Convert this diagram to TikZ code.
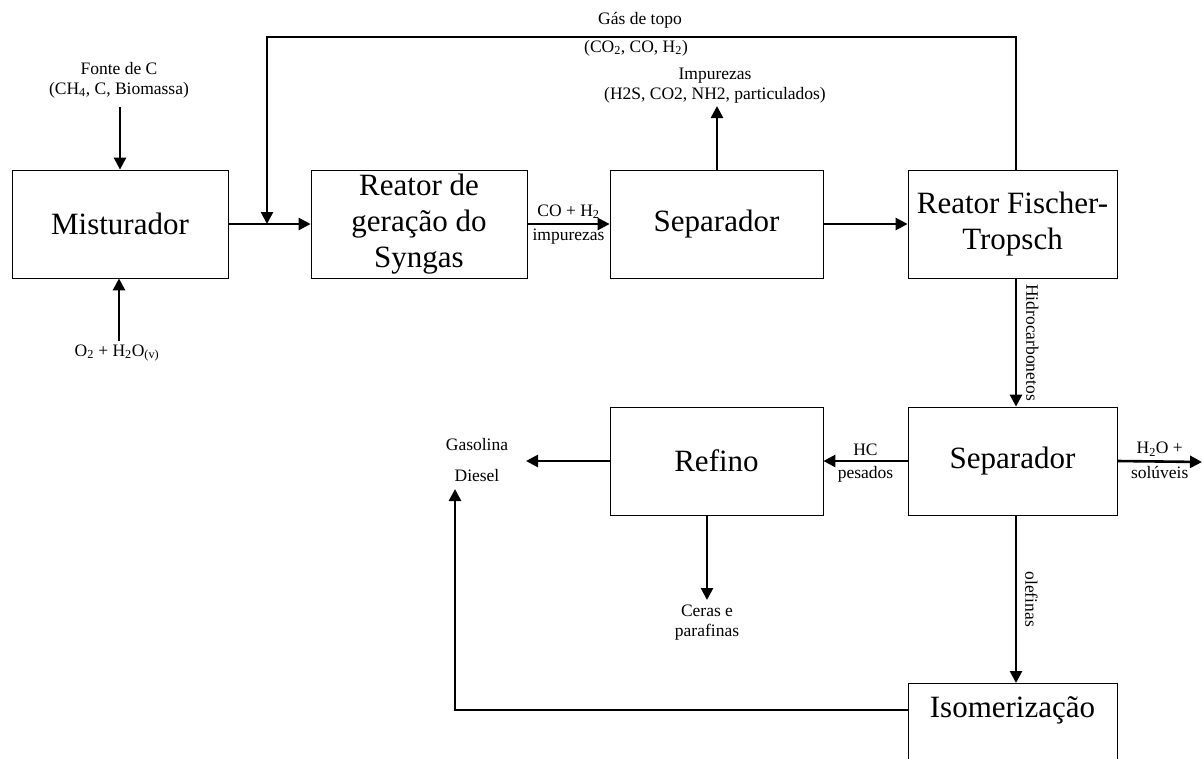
\documentclass[tikz,border=0pt]{standalone}
\usepackage{fontspec}
\setmainfont{Liberation Serif}
\usetikzlibrary{positioning,
                arrows.meta}                % arrow tips

\tikzset{
  bloco/.style={draw, line width=0.8pt, minimum height=108pt, align=center,
                font=\fontsize{31}{36}\selectfont, inner sep=0pt},
  fluxo/.style={line width=2.6pt, -{Triangle[length=12pt,width=12pt]}},
  rot/.style={font=\fontsize{17.5}{20}\selectfont, align=center, inner sep=0pt}
}

\begin{document}
\begin{tikzpicture}[x=1pt,y=-1pt]
        \useasboundingbox (0,0) rectangle (1202,758);
        \clip (0,0) rectangle (1202,758);

        % blocos
        \node[bloco, minimum width=216pt] (mist) at (120,224) {Misturador};
        \node[bloco, minimum width=216pt] (syn) at (419,224) {Reator de\\geração do\\Syngas};
        \node[bloco, minimum width=213pt] (sepa) at (716.5,224) {Separador};
        \node[bloco, minimum width=209pt] (ft) at (1012.5,224) {Reator Fischer-\\Tropsch};
        \node[bloco, minimum width=209pt] (sepb) at (1012.5,461) {Separador};
        \node[bloco, minimum width=213pt] (ref) at (716.5,461) {Refino};
        \node[bloco, minimum width=209pt, anchor=north] (isom) at (1012.5,683) {};
        \node[font=\fontsize{31}{36}\selectfont, inner sep=0pt] (isomtxt) at (1012.5,710) {Isomerização};

        % entradas
        \node[rot] (fonte) at (119,80) {Fonte de C\\(CH\textsubscript{4}, C, Biomassa)};
        \node[rot] (agua) at (117,353) {O\textsubscript{2} + H\textsubscript{2}O\textsubscript{(v)}};
        \draw[fluxo] (120,107) -- (mist.north);
        \draw[fluxo] (119,341) -- (mist.south -| 119,0);

        % gas de topo
        \coordinate (merge) at (267,224);
        \draw[fluxo] (mist.east) -- (syn.west);
        \draw[fluxo] (ft.north -| 1016,0) -- (1016,37) -| (merge);
        \node[rot] (topo) at (640,20) {Gás de topo};
        \node[rot] (topob) at (636,48) {(CO\textsubscript{2}, CO, H\textsubscript{2})};

        \draw[fluxo] (syn.east) -- node[rot, above=4pt] {CO + H\textsubscript{2}}
                                   node[rot, below=4pt] {impurezas} (sepa.west);

        % impurezas
        \node[rot] (impur) at (715,86) {Impurezas\\(H2S, CO2, NH2, particulados)};
        \draw[fluxo] (sepa.north -| 717,0) -- (717,106);

        \draw[fluxo] (sepa.east) -- (ft.west);
        \draw[fluxo] (ft.south -| 1016,0) -- node[rot, right=9pt, rotate=-90, anchor=south] {Hidrocarbonetos} (sepb.north -| 1016,0);

        % separador de baixo
        \coordinate (saida) at (1202,462);
        \draw[fluxo] (sepb.east) -- node[rot, above=4pt] {H\textsubscript{2}O +}
                                    node[rot, below=4pt] {solúveis} (saida);
        \draw[fluxo] (sepb.west) -- node[rot, above=4pt] {HC}
                                    node[rot, below=4pt] {pesados} (ref.east);
        \draw[fluxo] (sepb.south -| 1016,0) -- node[rot, right=8pt, rotate=-90, anchor=south] {olefinas} (isom.north -| 1016,0);

        % refino
        \node[rot] (gas) at (477,445) {Gasolina};
        \node[rot] (diesel) at (477,476) {Diesel};
        \coordinate (prod) at (526,461);
        \draw[fluxo] (ref.west) -- (prod);
        \node[rot] (ceras) at (707,623) {Ceras e\\parafinas};
        \draw[fluxo] (ref.south -| 707,0) -- (707,600);

        % isomerizacao
        \coordinate (volta) at (455,489);
        \draw[fluxo] (isom.west |- isomtxt) -| (volta);
\end{tikzpicture}
\end{document}
